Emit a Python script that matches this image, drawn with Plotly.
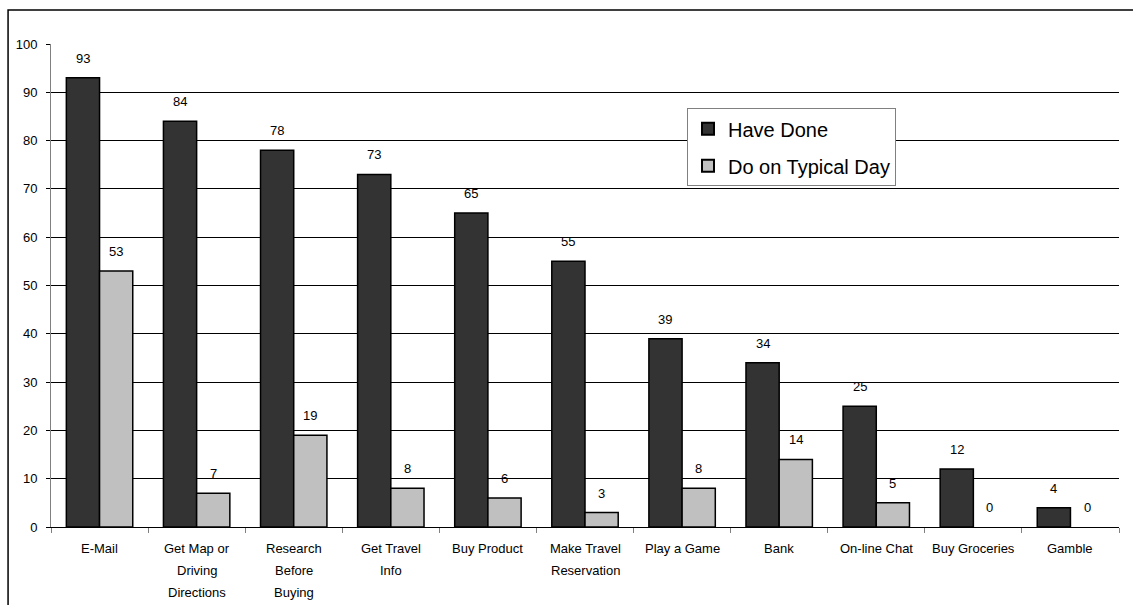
import plotly.graph_objects as go

categories = ["E-Mail", "Get Map or Driving Directions", "Research Before Buying",
              "Get Travel Info", "Buy Product", "Make Travel Reservation",
              "Play a Game", "Bank", "On-line Chat", "Buy Groceries", "Gamble"]
tick_labels = [["E-Mail"], ["Get Map or", "Driving", "Directions"],
               ["Research", "Before", "Buying"], ["Get Travel", "Info"],
               ["Buy Product"], ["Make Travel", "Reservation"], ["Play a Game"],
               ["Bank"], ["On-line Chat"], ["Buy Groceries"], ["Gamble"]]
have_done = [93, 84, 78, 73, 65, 55, 39, 34, 25, 12, 4]
typical_day = [53, 7, 19, 8, 6, 3, 8, 14, 5, 0, 0]
series_names = ["Have Done", "Do on Typical Day"]
series_colors = ["#333333", "#c0c0c0"]

FONT = "Liberation Sans, Arial, sans-serif"

fig = go.Figure()
for name, vals, col in zip(series_names, [have_done, typical_day], series_colors):
    fig.add_trace(go.Bar(
        x=categories, y=vals, name=name, legendgroup=name,
        marker=dict(color=col,
                    line=dict(color="black", width=[1.5 if v > 0 else 0 for v in vals])),
    ))

annotations = []
offsets = [-16.6, 16.6]
for vals, off in zip([have_done, typical_day], offsets):
    for c, v in zip(categories, vals):
        annotations.append(dict(
            x=c, y=v, xref="x", yref="y", text=str(v), showarrow=False,
            xshift=off, yshift=19.5, yanchor="middle", xanchor="center",
            font=dict(family=FONT, size=13, color="black")))

for c, lines in zip(categories, tick_labels):
    for i, line in enumerate(lines):
        annotations.append(dict(
            x=c, y=0, xref="x", yref="paper", text=line, showarrow=False,
            yshift=-(21.5 + 22 * i), yanchor="middle", xanchor="center",
            font=dict(family=FONT, size=13, color="black")))

fig.update_layout(
    width=1133, height=605,
    margin=dict(l=51, r=14, t=44, b=78),
    paper_bgcolor="white", plot_bgcolor="white",
    barmode="group", bargap=0.316, bargroupgap=0,
    font=dict(family=FONT, size=13, color="black"),
    annotations=annotations,
    showlegend=True,
    legend=dict(
        x=0.5955, y=0.867, xanchor="left", yanchor="top",
        bgcolor="white", bordercolor="#808080", borderwidth=1,
        font=dict(family=FONT, size=20, color="black"),
        traceorder="grouped", tracegroupgap=8,
        itemsizing="constant",
    ),
    shapes=[dict(type="rect", xref="paper", yref="paper",
                 x0=-0.0402, y0=-0.4, x1=1.1, y1=1.0704,
                 line=dict(color="black", width=1.5), fillcolor="rgba(0,0,0,0)",
                 layer="above")],
)

fig.update_xaxes(
    type="category", showticklabels=False,
    showline=True, linecolor="black", linewidth=1,
    ticks="outside", tickson="boundaries", ticklen=5, tickcolor="#808080",
    showgrid=False, zeroline=False,
)
fig.update_yaxes(
    range=[0, 100], dtick=10, tick0=0,
    showline=True, linecolor="#808080", linewidth=1,
    ticks="outside", ticklen=4, tickcolor="black",
    showgrid=True, gridcolor="black", gridwidth=1,
    zeroline=False,
    tickfont=dict(family=FONT, size=13, color="black"),
    ticklabelstandoff=6,
)

fig.write_html("out.html")
